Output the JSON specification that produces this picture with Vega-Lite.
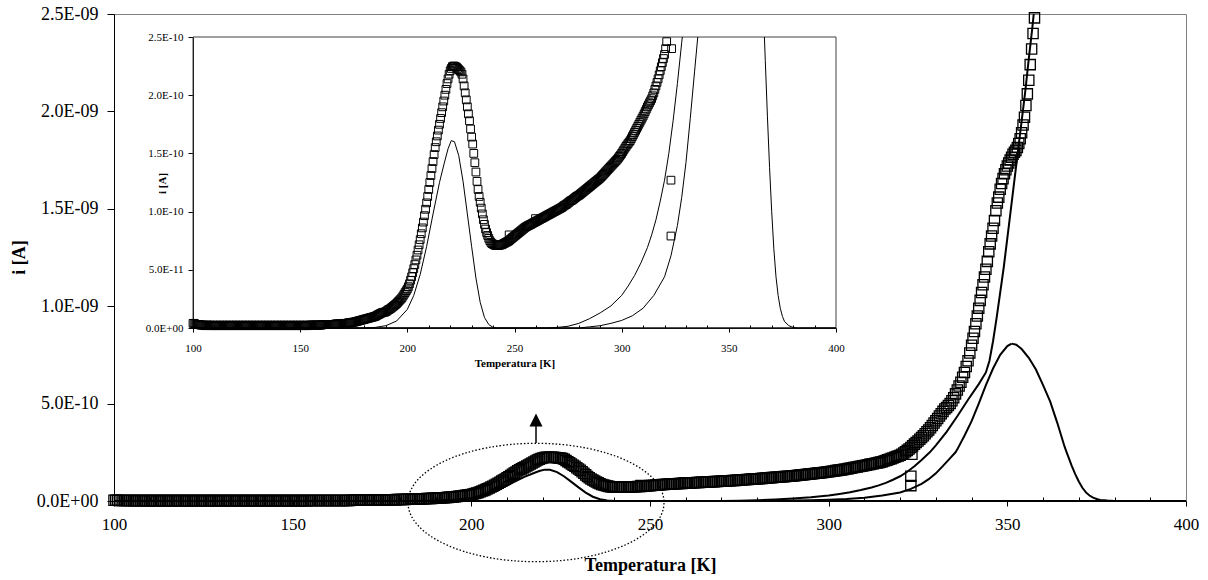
{
  "$schema": "https://vega.github.io/schema/vega-lite/v6.json",
  "width": 1072,
  "height": 487,
  "autosize": "none",
  "padding": {"left": 114, "top": 14, "right": 22, "bottom": 79},
  "background": "white",
  "config": {
    "view": {"stroke": "#7f7f7f", "strokeWidth": 1},
    "axis": {"labelFont": "Liberation Serif", "titleFont": "Liberation Serif", "labelColor": "black", "titleColor": "black", "domainColor": "black", "tickColor": "black", "grid": false, "labelFlush": false, "labelOverlap": false}
  },
  "datasets": {
    "sq": [
      {"T":100,"i":4e-12},{"T":100.5,"i":4e-12},{"T":101,"i":3.5e-12},{"T":101.5,"i":3e-12},{"T":102,"i":3e-12},{"T":102.5,"i":3e-12},{"T":103,"i":3e-12},{"T":103.5,"i":2.5e-12},{"T":104,"i":2.5e-12},{"T":104.5,"i":2.5e-12},{"T":105,"i":2.5e-12},{"T":105.5,"i":2e-12},{"T":106,"i":2e-12},{"T":106.5,"i":2.5e-12},{"T":107,"i":2.5e-12},{"T":107.5,"i":2e-12},{"T":108,"i":2.5e-12},{"T":108.5,"i":2e-12},{"T":109,"i":2e-12},{"T":109.5,"i":2.5e-12},{"T":110,"i":2e-12},{"T":110.5,"i":2e-12},{"T":111,"i":2.5e-12},{"T":111.5,"i":2e-12},{"T":112,"i":2e-12},{"T":112.5,"i":2.5e-12},{"T":113,"i":2e-12},{"T":113.5,"i":2e-12},{"T":114,"i":2.5e-12},{"T":114.5,"i":2e-12},{"T":115,"i":2e-12},{"T":115.5,"i":2.5e-12},{"T":116,"i":2e-12},{"T":116.5,"i":2e-12},{"T":117,"i":2.5e-12},{"T":117.5,"i":2e-12},{"T":118,"i":2e-12},{"T":118.5,"i":2.5e-12},{"T":119,"i":2e-12},{"T":119.5,"i":2e-12},{"T":120,"i":2.5e-12},{"T":120.5,"i":2e-12},{"T":121,"i":2e-12},{"T":121.5,"i":2.5e-12},{"T":122,"i":2e-12},{"T":122.5,"i":2e-12},{"T":123,"i":2.5e-12},{"T":123.5,"i":2e-12},{"T":124,"i":2e-12},{"T":124.5,"i":2.5e-12},{"T":125,"i":2e-12},{"T":125.5,"i":2e-12},{"T":126,"i":2.5e-12},{"T":126.5,"i":2e-12},{"T":127,"i":2e-12},{"T":127.5,"i":2.5e-12},{"T":128,"i":2e-12},{"T":128.5,"i":2e-12},{"T":129,"i":2.5e-12},{"T":129.5,"i":2e-12},{"T":130,"i":2e-12},{"T":130.5,"i":2.5e-12},{"T":131,"i":2e-12},{"T":131.5,"i":2e-12},{"T":132,"i":2.5e-12},{"T":132.5,"i":2e-12},{"T":133,"i":2e-12},{"T":133.5,"i":2.5e-12},{"T":134,"i":2e-12},{"T":134.5,"i":2e-12},{"T":135,"i":2.5e-12},{"T":135.5,"i":2e-12},{"T":136,"i":2e-12},{"T":136.5,"i":2.5e-12},{"T":137,"i":2e-12},{"T":137.5,"i":2e-12},{"T":138,"i":2.5e-12},{"T":138.5,"i":2e-12},{"T":139,"i":2e-12},{"T":139.5,"i":2.5e-12},{"T":140,"i":2e-12},{"T":140.5,"i":2e-12},{"T":141,"i":2.5e-12},{"T":141.5,"i":2e-12},{"T":142,"i":2e-12},{"T":142.5,"i":2.5e-12},{"T":143,"i":2e-12},{"T":143.5,"i":2e-12},{"T":144,"i":2.5e-12},{"T":144.5,"i":2e-12},{"T":145,"i":2e-12},{"T":145.5,"i":2.5e-12},{"T":146,"i":2e-12},{"T":146.5,"i":2e-12},{"T":147,"i":2.5e-12},{"T":147.5,"i":2e-12},{"T":148,"i":2e-12},{"T":148.5,"i":2.5e-12},{"T":149,"i":2e-12},{"T":149.5,"i":2e-12},{"T":150,"i":2.5e-12},{"T":150.5,"i":2e-12},{"T":151,"i":2e-12},{"T":151.5,"i":2.5e-12},{"T":152,"i":2e-12},{"T":152.5,"i":2e-12},{"T":153,"i":2.5e-12},{"T":153.5,"i":2e-12},{"T":154,"i":2e-12},{"T":154.5,"i":2.5e-12},{"T":155,"i":2.5e-12},{"T":155.5,"i":2.5e-12},{"T":156,"i":2.5e-12},{"T":156.5,"i":2.5e-12},{"T":157,"i":2.5e-12},{"T":157.5,"i":2.5e-12},{"T":158,"i":2.5e-12},{"T":158.5,"i":2.5e-12},{"T":159,"i":2.5e-12},{"T":159.5,"i":2.5e-12},{"T":160,"i":2.5e-12},{"T":160.5,"i":3e-12},{"T":161,"i":3e-12},{"T":161.5,"i":3e-12},{"T":162,"i":3e-12},{"T":162.5,"i":3e-12},{"T":163,"i":3e-12},{"T":163.5,"i":3e-12},{"T":164,"i":3e-12},{"T":164.5,"i":3e-12},{"T":165,"i":3e-12},{"T":165.5,"i":3e-12},{"T":166,"i":3e-12},{"T":166.5,"i":3.5e-12},{"T":167,"i":3.5e-12},{"T":167.5,"i":3.5e-12},{"T":168,"i":3.5e-12},{"T":168.5,"i":3.5e-12},{"T":169,"i":3.5e-12},{"T":169.5,"i":3.5e-12},{"T":170,"i":3.5e-12},
      {"T":170.5,"i":4e-12},{"T":171,"i":4e-12},{"T":171.5,"i":4e-12},{"T":172,"i":4e-12},{"T":172.5,"i":4.5e-12},{"T":173,"i":4.5e-12},{"T":173.5,"i":4.5e-12},{"T":174,"i":4.5e-12},{"T":174.5,"i":5e-12},{"T":175,"i":5e-12},{"T":175.5,"i":5.2e-12},{"T":176,"i":5.5e-12},{"T":176.5,"i":5.7e-12},{"T":177,"i":6e-12},{"T":177.5,"i":6.2e-12},{"T":178,"i":6.5e-12},{"T":178.5,"i":6.7e-12},{"T":179,"i":7e-12},{"T":179.5,"i":7.2e-12},{"T":180,"i":7.5e-12},{"T":180.5,"i":7.7e-12},{"T":181,"i":8e-12},{"T":181.5,"i":8.2e-12},{"T":182,"i":8.5e-12},{"T":182.5,"i":8.7e-12},{"T":183,"i":9e-12},{"T":183.5,"i":9.2e-12},{"T":184,"i":9.5e-12},{"T":184.5,"i":9.7e-12},{"T":185,"i":1e-11},{"T":185.5,"i":1.05e-11},{"T":186,"i":1.1e-11},{"T":186.5,"i":1.15e-11},{"T":187,"i":1.2e-11},{"T":187.5,"i":1.25e-11},{"T":188,"i":1.3e-11},{"T":188.5,"i":1.32e-11},{"T":189,"i":1.35e-11},{"T":189.5,"i":1.37e-11},{"T":190,"i":1.4e-11},{"T":190.5,"i":1.47e-11},{"T":191,"i":1.55e-11},{"T":191.5,"i":1.6e-11},{"T":192,"i":1.65e-11},{"T":192.5,"i":1.72e-11},{"T":193,"i":1.8e-11},{"T":193.5,"i":1.87e-11},{"T":194,"i":1.95e-11},{"T":194.5,"i":2.02e-11},
      {"T":195,"i":2.1e-11},{"T":195.5,"i":2.2e-11},{"T":196,"i":2.3e-11},{"T":196.5,"i":2.4e-11},{"T":197,"i":2.5e-11},{"T":197.5,"i":2.6e-11},{"T":198,"i":2.75e-11},{"T":198.5,"i":2.9e-11},{"T":199,"i":3.05e-11},{"T":199.5,"i":3.2e-11},{"T":200,"i":3.35e-11},{"T":200.5,"i":3.55e-11},{"T":201,"i":3.8e-11},{"T":201.5,"i":4.1e-11},{"T":202,"i":4.4e-11},{"T":202.5,"i":4.75e-11},{"T":203,"i":5.1e-11},{"T":203.5,"i":5.45e-11},{"T":204,"i":5.85e-11},{"T":204.5,"i":6.25e-11},{"T":205,"i":6.7e-11},{"T":205.5,"i":7.15e-11},{"T":206,"i":7.6e-11},{"T":206.5,"i":8.1e-11},{"T":207,"i":8.6e-11},{"T":207.5,"i":9.1e-11},{"T":208,"i":9.65e-11},{"T":208.5,"i":1.02e-10},{"T":209,"i":1.075e-10},{"T":209.5,"i":1.13e-10},{"T":210,"i":1.19e-10},{"T":210.5,"i":1.25e-10},{"T":211,"i":1.31e-10},{"T":211.5,"i":1.37e-10},{"T":212,"i":1.43e-10},{"T":212.5,"i":1.49e-10},{"T":213,"i":1.55e-10},{"T":213.5,"i":1.6e-10},{"T":214,"i":1.65e-10},{"T":214.5,"i":1.7e-10},{"T":215,"i":1.75e-10},{"T":215.5,"i":1.8e-10},{"T":216,"i":1.85e-10},{"T":216.5,"i":1.9e-10},{"T":217,"i":1.95e-10},{"T":217.5,"i":2e-10},{"T":218,"i":2.05e-10},{"T":218.5,"i":2.1e-10},{"T":219,"i":2.14e-10},{"T":219.5,"i":2.18e-10},{"T":220,"i":2.21e-10},{"T":220.5,"i":2.23e-10},{"T":221,"i":2.245e-10},{"T":221.5,"i":2.25e-10},{"T":222,"i":2.25e-10},{"T":222.5,"i":2.245e-10},{"T":223,"i":2.24e-10},{"T":223.5,"i":2.23e-10},{"T":224,"i":2.22e-10},{"T":224.5,"i":2.21e-10},{"T":225,"i":2.2e-10},{"T":225.5,"i":2.18e-10},{"T":226,"i":2.14e-10},{"T":226.5,"i":2.08e-10},{"T":227,"i":2.02e-10},{"T":227.5,"i":1.96e-10},{"T":228,"i":1.9e-10},{"T":228.5,"i":1.84e-10},{"T":229,"i":1.78e-10},{"T":229.5,"i":1.71e-10},{"T":230,"i":1.64e-10},{"T":230.5,"i":1.58e-10},{"T":231,"i":1.5e-10},{"T":231.5,"i":1.42e-10},{"T":232,"i":1.34e-10},{"T":232.5,"i":1.26e-10},{"T":233,"i":1.19e-10},{"T":233.5,"i":1.13e-10},{"T":234,"i":1.08e-10},{"T":234.5,"i":1.03e-10},{"T":235,"i":9.8e-11},{"T":235.5,"i":9.3e-11},{"T":236,"i":8.9e-11},{"T":236.5,"i":8.5e-11},{"T":237,"i":8.2e-11},{"T":237.5,"i":7.95e-11},{"T":238,"i":7.7e-11},{"T":238.5,"i":7.5e-11},{"T":239,"i":7.35e-11},{"T":239.5,"i":7.25e-11},{"T":240,"i":7.2e-11},{"T":240.5,"i":7.15e-11},{"T":241,"i":7.1e-11},{"T":241.5,"i":7.1e-11},{"T":242,"i":7.1e-11},{"T":242.5,"i":7.1e-11},{"T":243,"i":7.1e-11},{"T":243.5,"i":7.15e-11},{"T":244,"i":7.15e-11},{"T":244.5,"i":7.2e-11},
      {"T":245,"i":7.25e-11},{"T":245.5,"i":7.3e-11},{"T":246,"i":7.35e-11},{"T":246.5,"i":7.4e-11},{"T":247,"i":7.45e-11},{"T":247.5,"i":7.5e-11},{"T":247.5,"i":8e-11},{"T":248,"i":7.6e-11},{"T":248.5,"i":7.67e-11},{"T":249,"i":7.75e-11},{"T":249.5,"i":7.82e-11},{"T":250,"i":7.9e-11},{"T":250.5,"i":7.97e-11},{"T":251,"i":8.05e-11},{"T":251.5,"i":8.12e-11},{"T":252,"i":8.2e-11},{"T":252.5,"i":8.27e-11},{"T":253,"i":8.35e-11},{"T":253.5,"i":8.42e-11},{"T":254,"i":8.5e-11},{"T":254.5,"i":8.57e-11},{"T":255,"i":8.65e-11},{"T":255.5,"i":8.7e-11},{"T":256,"i":8.75e-11},{"T":256.5,"i":8.8e-11},{"T":257,"i":8.85e-11},{"T":257.5,"i":8.9e-11},{"T":258,"i":8.95e-11},{"T":258.5,"i":9e-11},{"T":259,"i":9.05e-11},{"T":259.5,"i":9.1e-11},{"T":259.8,"i":9.4e-11},{"T":260,"i":9.15e-11},{"T":260.5,"i":9.2e-11},{"T":261,"i":9.25e-11},{"T":261.5,"i":9.3e-11},{"T":262,"i":9.35e-11},{"T":262.5,"i":9.4e-11},{"T":263,"i":9.45e-11},{"T":263.5,"i":9.5e-11},{"T":264,"i":9.55e-11},{"T":264.5,"i":9.6e-11},{"T":265,"i":9.65e-11},{"T":265.5,"i":9.7e-11},{"T":266,"i":9.75e-11},{"T":266.5,"i":9.8e-11},{"T":267,"i":9.85e-11},{"T":267.5,"i":9.9e-11},{"T":268,"i":9.95e-11},{"T":268.5,"i":1e-10},{"T":269,"i":1.005e-10},{"T":269.5,"i":1.01e-10},{"T":270,"i":1.015e-10},{"T":270.5,"i":1.02e-10},{"T":271,"i":1.025e-10},{"T":271.5,"i":1.03e-10},{"T":272,"i":1.035e-10},{"T":272.5,"i":1.042e-10},{"T":273,"i":1.05e-10},{"T":273.5,"i":1.055e-10},{"T":274,"i":1.06e-10},{"T":274.5,"i":1.067e-10},{"T":275,"i":1.075e-10},{"T":275.5,"i":1.082e-10},{"T":276,"i":1.09e-10},{"T":276.5,"i":1.095e-10},{"T":277,"i":1.1e-10},{"T":277.5,"i":1.107e-10},{"T":278,"i":1.115e-10},{"T":278.5,"i":1.122e-10},{"T":279,"i":1.13e-10},{"T":279.5,"i":1.135e-10},{"T":280,"i":1.14e-10},{"T":280.5,"i":1.147e-10},{"T":281,"i":1.155e-10},{"T":281.5,"i":1.162e-10},{"T":282,"i":1.17e-10},{"T":282.5,"i":1.177e-10},{"T":283,"i":1.185e-10},{"T":283.5,"i":1.192e-10},{"T":284,"i":1.2e-10},{"T":284.5,"i":1.207e-10},{"T":285,"i":1.215e-10},{"T":285.5,"i":1.222e-10},{"T":286,"i":1.23e-10},{"T":286.5,"i":1.237e-10},{"T":287,"i":1.245e-10},{"T":287.5,"i":1.252e-10},{"T":288,"i":1.26e-10},{"T":288.5,"i":1.267e-10},{"T":289,"i":1.275e-10},{"T":289.5,"i":1.282e-10},{"T":290,"i":1.29e-10},{"T":290.5,"i":1.3e-10},{"T":291,"i":1.31e-10},{"T":291.5,"i":1.32e-10},{"T":292,"i":1.33e-10},{"T":292.5,"i":1.34e-10},{"T":293,"i":1.35e-10},{"T":293.5,"i":1.36e-10},{"T":294,"i":1.37e-10},{"T":294.5,"i":1.38e-10},{"T":295,"i":1.39e-10},{"T":295.5,"i":1.4e-10},{"T":296,"i":1.41e-10},{"T":296.5,"i":1.42e-10},{"T":297,"i":1.43e-10},{"T":297.5,"i":1.44e-10},{"T":298,"i":1.45e-10},{"T":298.5,"i":1.462e-10},{"T":299,"i":1.475e-10},{"T":299.5,"i":1.487e-10},{"T":300,"i":1.5e-10},
      {"T":300.5,"i":1.515e-10},{"T":301,"i":1.53e-10},{"T":301.5,"i":1.545e-10},{"T":302,"i":1.56e-10},{"T":302.5,"i":1.572e-10},{"T":303,"i":1.585e-10},{"T":303.5,"i":1.597e-10},{"T":304,"i":1.61e-10},{"T":304.5,"i":1.627e-10},{"T":305,"i":1.645e-10},{"T":305.5,"i":1.662e-10},{"T":306,"i":1.68e-10},{"T":306.5,"i":1.697e-10},{"T":307,"i":1.715e-10},{"T":307.5,"i":1.732e-10},{"T":308,"i":1.75e-10},{"T":308.5,"i":1.767e-10},{"T":309,"i":1.785e-10},{"T":309.5,"i":1.802e-10},{"T":310,"i":1.82e-10},{"T":310.5,"i":1.84e-10},{"T":311,"i":1.86e-10},{"T":311.5,"i":1.88e-10},{"T":312,"i":1.9e-10},{"T":312.5,"i":1.917e-10},{"T":313,"i":1.935e-10},{"T":313.5,"i":1.952e-10},{"T":314,"i":1.97e-10},{"T":314.5,"i":1.995e-10},{"T":315,"i":2.02e-10},{"T":315.5,"i":2.05e-10},{"T":316,"i":2.08e-10},{"T":316.5,"i":2.11e-10},{"T":317,"i":2.14e-10},{"T":317.5,"i":2.175e-10},{"T":318,"i":2.21e-10},{"T":318.5,"i":2.245e-10},{"T":319,"i":2.28e-10},{"T":319.5,"i":2.315e-10},{"T":320,"i":2.35e-10},{"T":320.5,"i":2.4e-10},{"T":321,"i":2.46e-10},{"T":321.5,"i":2.53e-10},{"T":322,"i":2.6e-10},{"T":322.5,"i":2.67e-10},{"T":323,"i":2.75e-10},{"T":323,"i":1.27e-10},{"T":323,"i":7.9e-11},{"T":323.3,"i":2.4e-10},
      {"T":323.5,"i":2.83e-10},{"T":324,"i":2.92e-10},{"T":324.5,"i":3e-10},{"T":325,"i":3.08e-10},{"T":325.5,"i":3.17e-10},{"T":326,"i":3.26e-10},{"T":326.5,"i":3.35e-10},{"T":327,"i":3.45e-10},{"T":327.5,"i":3.55e-10},{"T":328,"i":3.65e-10},{"T":328.5,"i":3.76e-10},{"T":329,"i":3.88e-10},{"T":329.5,"i":4e-10},{"T":330,"i":4.12e-10},{"T":330.5,"i":4.24e-10},{"T":331,"i":4.36e-10},{"T":331.5,"i":4.48e-10},{"T":332,"i":4.6e-10},{"T":332.5,"i":4.72e-10},{"T":333,"i":4.8e-10},{"T":333.5,"i":4.9e-10},{"T":334,"i":5e-10},{"T":334.5,"i":5.15e-10},{"T":335,"i":5.3e-10},{"T":335.5,"i":5.5e-10},{"T":336,"i":5.7e-10},{"T":336.5,"i":5.9e-10},{"T":337,"i":6.1e-10},{"T":337.5,"i":6.35e-10},{"T":338,"i":6.6e-10},{"T":338.5,"i":6.9e-10},{"T":339,"i":7.2e-10},{"T":339.5,"i":7.6e-10},{"T":340,"i":8e-10},
      {"T":340.4,"i":8.35e-10},{"T":340.8,"i":8.7e-10},{"T":341.2,"i":9.1e-10},{"T":341.6,"i":9.5e-10},{"T":342,"i":9.9e-10},{"T":342.4,"i":1.03e-9},{"T":342.8,"i":1.07e-9},{"T":343.2,"i":1.11e-9},{"T":343.6,"i":1.15e-9},{"T":344,"i":1.19e-9},{"T":344.4,"i":1.23e-9},{"T":344.8,"i":1.28e-9},{"T":345.2,"i":1.32e-9},{"T":345.6,"i":1.36e-9},{"T":346,"i":1.4e-9},{"T":346.4,"i":1.44e-9},{"T":346.8,"i":1.49e-9},{"T":347.2,"i":1.53e-9},{"T":347.6,"i":1.56e-9},{"T":348,"i":1.6e-9},{"T":348.4,"i":1.63e-9},{"T":348.8,"i":1.655e-9},{"T":349.2,"i":1.68e-9},{"T":349.6,"i":1.7e-9},{"T":350,"i":1.72e-9},{"T":350.4,"i":1.735e-9},{"T":350.8,"i":1.75e-9},{"T":351.2,"i":1.765e-9},{"T":351.6,"i":1.78e-9},{"T":352,"i":1.79e-9},{"T":352.4,"i":1.8e-9},{"T":352.8,"i":1.815e-9},{"T":353.2,"i":1.835e-9},{"T":353.6,"i":1.86e-9},{"T":354,"i":1.89e-9},{"T":354.4,"i":1.93e-9},{"T":354.8,"i":1.97e-9},{"T":355.2,"i":2.03e-9},{"T":355.6,"i":2.09e-9},{"T":356,"i":2.16e-9},{"T":356.4,"i":2.24e-9},{"T":356.8,"i":2.32e-9},{"T":357.2,"i":2.4e-9},{"T":357.6,"i":2.48e-9}
    ],
    "ln": [
      {"s":"P1","T":100,"i":0},{"s":"P1","T":180,"i":0},{"s":"P1","T":185,"i":5e-13},{"s":"P1","T":190,"i":2e-12},{"s":"P1","T":195,"i":6e-12},{"s":"P1","T":200,"i":1.6e-11},{"s":"P1","T":203,"i":2.8e-11},{"s":"P1","T":206,"i":4.6e-11},{"s":"P1","T":209,"i":7e-11},{"s":"P1","T":212,"i":9.8e-11},{"s":"P1","T":215,"i":1.25e-10},{"s":"P1","T":217,"i":1.4e-10},{"s":"P1","T":219,"i":1.54e-10},{"s":"P1","T":220.5,"i":1.61e-10},{"s":"P1","T":222,"i":1.6e-10},{"s":"P1","T":224,"i":1.48e-10},{"s":"P1","T":226,"i":1.26e-10},{"s":"P1","T":228,"i":9.8e-11},{"s":"P1","T":230,"i":7e-11},{"s":"P1","T":232,"i":4.3e-11},{"s":"P1","T":234,"i":2.2e-11},{"s":"P1","T":236,"i":9e-12},{"s":"P1","T":238,"i":3e-12},{"s":"P1","T":240,"i":5e-13},{"s":"P1","T":242,"i":0},{"s":"P1","T":400,"i":0},
      {"s":"A","T":100,"i":0},{"s":"A","T":265,"i":0},{"s":"A","T":270,"i":5e-13},{"s":"A","T":275,"i":1.5e-12},{"s":"A","T":280,"i":4e-12},{"s":"A","T":285,"i":8e-12},{"s":"A","T":290,"i":1.3e-11},{"s":"A","T":295,"i":1.9e-11},{"s":"A","T":300,"i":2.8e-11},{"s":"A","T":303,"i":3.6e-11},{"s":"A","T":306,"i":4.5e-11},{"s":"A","T":309,"i":5.6e-11},{"s":"A","T":312,"i":6.9e-11},{"s":"A","T":314,"i":8e-11},{"s":"A","T":316,"i":9.3e-11},{"s":"A","T":318,"i":1.09e-10},{"s":"A","T":320,"i":1.27e-10},{"s":"A","T":322,"i":1.5e-10},{"s":"A","T":324,"i":1.78e-10},{"s":"A","T":326,"i":2.1e-10},{"s":"A","T":328,"i":2.45e-10},{"s":"A","T":328.3,"i":2.5e-10},{"s":"A","T":330,"i":2.85e-10},{"s":"A","T":333,"i":3.55e-10},{"s":"A","T":336,"i":4.35e-10},{"s":"A","T":339,"i":5.2e-10},{"s":"A","T":342,"i":6e-10},{"s":"A","T":344,"i":6.6e-10},{"s":"A","T":345,"i":7.2e-10},{"s":"A","T":346,"i":8.2e-10},{"s":"A","T":347,"i":9.4e-10},{"s":"A","T":348,"i":1.07e-9},{"s":"A","T":349,"i":1.2e-9},{"s":"A","T":350,"i":1.35e-9},{"s":"A","T":351,"i":1.5e-9},{"s":"A","T":352,"i":1.65e-9},{"s":"A","T":353,"i":1.8e-9},{"s":"A","T":354,"i":1.95e-9},{"s":"A","T":355,"i":2.1e-9},{"s":"A","T":356,"i":2.27e-9},{"s":"A","T":357,"i":2.43e-9},{"s":"A","T":357.5,"i":2.52e-9},
      {"s":"P2a","T":100,"i":0},{"s":"P2a","T":280,"i":0},{"s":"P2a","T":285,"i":1e-12},{"s":"P2a","T":290,"i":2e-12},{"s":"P2a","T":295,"i":4e-12},{"s":"P2a","T":300,"i":6.5e-12},{"s":"P2a","T":305,"i":1.05e-11},{"s":"P2a","T":310,"i":1.7e-11},{"s":"P2a","T":315,"i":2.8e-11},{"s":"P2a","T":320,"i":4.4e-11},{"s":"P2a","T":323,"i":6.2e-11},{"s":"P2a","T":326,"i":8.8e-11},{"s":"P2a","T":328,"i":1.12e-10},{"s":"P2a","T":330,"i":1.42e-10},{"s":"P2a","T":332,"i":1.8e-10},{"s":"P2a","T":334,"i":2.2e-10},{"s":"P2a","T":335.5,"i":2.5e-10},{"s":"P2a","T":336,"i":2.65e-10},{"s":"P2a","T":338,"i":3.35e-10},{"s":"P2a","T":340,"i":4.1e-10},{"s":"P2a","T":342,"i":5e-10},{"s":"P2a","T":344,"i":5.95e-10},{"s":"P2a","T":346,"i":6.8e-10},{"s":"P2a","T":348,"i":7.5e-10},{"s":"P2a","T":350,"i":7.95e-10},{"s":"P2a","T":351.2,"i":8.08e-10},
      {"s":"P2b","T":351.2,"i":8.08e-10},{"s":"P2b","T":352.5,"i":8.02e-10},{"s":"P2b","T":354,"i":7.8e-10},{"s":"P2b","T":356,"i":7.35e-10},{"s":"P2b","T":358,"i":6.75e-10},{"s":"P2b","T":360,"i":5.95e-10},{"s":"P2b","T":362,"i":5.1e-10},{"s":"P2b","T":364,"i":4e-10},{"s":"P2b","T":366,"i":2.8e-10},{"s":"P2b","T":366.6,"i":2.5e-10},{"s":"P2b","T":367,"i":2.3e-10},{"s":"P2b","T":368,"i":1.82e-10},{"s":"P2b","T":369,"i":1.38e-10},{"s":"P2b","T":370,"i":1e-10},{"s":"P2b","T":371,"i":6.8e-11},{"s":"P2b","T":372,"i":4.4e-11},{"s":"P2b","T":373,"i":2.8e-11},{"s":"P2b","T":374,"i":1.7e-11},{"s":"P2b","T":375,"i":1e-11},{"s":"P2b","T":376,"i":5.5e-12},{"s":"P2b","T":378,"i":2e-12},{"s":"P2b","T":380,"i":5e-13},{"s":"P2b","T":382,"i":0},{"s":"P2b","T":400,"i":0}
    ],
    "fr": [{"x1": 100, "x2": 400, "y1": 0, "y2": 2.5e-10}],
    "ell": [{"T": 218.1, "i": -7.7e-12}],
    "arr": [{"T": 218.1, "i": 2.98e-10, "i2": 3.85e-10, "ih": 4.16e-10}]
  },
  "resolve": {"scale": {"x": "independent", "y": "independent"}},
  "layer": [
    {
      "data": {"name": "sq"},
      "mark": {"type": "point", "shape": "square", "filled": false, "color": "black", "strokeWidth": 1.3, "size": 105, "opacity": 1},
      "encoding": {
        "x": {"field": "T", "type": "quantitative", "scale": {"domain": [100, 400], "nice": false, "zero": false},
          "axis": {"orient": "bottom", "values": [100, 150, 200, 250, 300, 350, 400], "tickSize": 5, "labelFontSize": 17, "labelPadding": 10, "title": "Temperatura [K]", "titleFontSize": 18, "titleFontWeight": "bold", "titleX": 536, "titleY": 64, "titleAlign": "center", "titleBaseline": "middle"}},
        "y": {"field": "i", "type": "quantitative", "scale": {"domain": [0, 2.5e-9], "nice": false, "zero": false},
          "axis": {"orient": "left", "values": [0, 5e-10, 1e-9, 1.5e-9, 2e-9, 2.5e-9], "tickSize": 7, "labelFontSize": 18, "labelPadding": 9, "labelExpr": "datum.value == 0 ? '0.0E+00' : replace(replace(format(datum.value, '.1e'), regexp('e-([0-9])$'), 'E-0$1'), 'e-', 'E-')", "title": "i [A]", "titleFontSize": 18, "titleFontWeight": "bold", "titleX": -95, "titleY": 243, "titleAlign": "center", "titleBaseline": "middle", "titleAngle": 270}}
      }
    },
    {
      "data": {"name": "ln"},
      "mark": {"type": "line", "color": "black", "strokeWidth": 2, "clip": true},
      "encoding": {
        "x": {"field": "T", "type": "quantitative", "scale": {"domain": [100, 400], "nice": false, "zero": false},
          "axis": {"orient": "bottom", "values": [110, 120, 130, 140, 160, 170, 180, 190, 210, 220, 230, 240, 260, 270, 280, 290, 310, 320, 330, 340, 360, 370, 380, 390], "tickSize": -4, "labels": false, "domain": false, "title": null}},
        "y": {"field": "i", "type": "quantitative", "scale": {"domain": [0, 2.5e-9], "nice": false, "zero": false}, "axis": null},
        "detail": {"field": "s", "type": "nominal"}
      }
    },
    {
      "data": {"name": "fr"},
      "mark": {"type": "rect", "fill": "transparent", "stroke": "#404040", "strokeWidth": 1},
      "encoding": {
        "x": {"field": "x1", "type": "quantitative", "scale": {"domain": [100, 400], "range": [79, 722], "nice": false, "zero": false}, "axis": null},
        "x2": {"field": "x2"},
        "y": {"field": "y1", "type": "quantitative", "scale": {"domain": [0, 2.5e-10], "range": [314, 23], "nice": false, "zero": false}, "axis": null},
        "y2": {"field": "y2"}
      }
    },
    {
      "data": {"name": "sq"},
      "transform": [{"filter": "datum.i <= 2.5e-10"}],
      "mark": {"type": "point", "shape": "square", "filled": false, "color": "black", "strokeWidth": 1, "size": 60, "opacity": 1},
      "encoding": {
        "x": {"field": "T", "type": "quantitative", "scale": {"domain": [100, 400], "range": [79, 722], "nice": false, "zero": false},
          "axis": {"orient": "bottom", "offset": -173, "values": [100, 150, 200, 250, 300, 350, 400], "tickSize": 4, "labelFontSize": 11, "labelPadding": 10, "title": "Temperatura [K]", "titleFontSize": 11, "titleFontWeight": "bold", "titleX": 400.5, "titleY": 35, "titleAlign": "center", "titleBaseline": "middle"}},
        "y": {"field": "i", "type": "quantitative", "scale": {"domain": [0, 2.5e-10], "range": [314, 23], "nice": false, "zero": false},
          "axis": {"orient": "left", "offset": -79, "values": [0, 5e-11, 1e-10, 1.5e-10, 2e-10, 2.5e-10], "tickSize": 5, "labelFontSize": 11, "labelPadding": 5, "labelExpr": "datum.value == 0 ? '0.0E+00' : replace(replace(format(datum.value, '.1e'), regexp('e-([0-9])$'), 'E-0$1'), 'e-', 'E-')", "title": "i [A]", "titleFontSize": 11, "titleFontWeight": "bold", "titleX": -31, "titleY": 169, "titleAlign": "center", "titleBaseline": "middle", "titleAngle": 270}}
      }
    },
    {
      "data": {"name": "ln"},
      "transform": [{"filter": "datum.i <= 2.5e-10"}],
      "mark": {"type": "line", "color": "black", "strokeWidth": 1},
      "encoding": {
        "x": {"field": "T", "type": "quantitative", "scale": {"domain": [100, 400], "range": [79, 722], "nice": false, "zero": false},
          "axis": {"orient": "bottom", "offset": -173, "values": [110, 120, 130, 140, 160, 170, 180, 190, 210, 220, 230, 240, 260, 270, 280, 290, 310, 320, 330, 340, 360, 370, 380, 390], "tickSize": -3, "labels": false, "domain": false, "title": null}},
        "y": {"field": "i", "type": "quantitative", "scale": {"domain": [0, 2.5e-10], "range": [314, 23], "nice": false, "zero": false}, "axis": null},
        "detail": {"field": "s", "type": "nominal"}
      }
    },
    {
      "data": {"name": "ell"},
      "mark": {"type": "point", "shape": "M-1,0C-1,-0.2554,-0.5523,-0.4625,0,-0.4625C0.5523,-0.4625,1,-0.2554,1,0C1,0.2554,0.5523,0.4625,0,0.4625C-0.5523,0.4625,-1,0.2554,-1,0Z", "filled": false, "color": "black", "strokeWidth": 1.3, "strokeDash": [1.5, 2], "size": 65536, "opacity": 1},
      "encoding": {
        "x": {"field": "T", "type": "quantitative", "scale": {"domain": [100, 400], "nice": false, "zero": false}, "axis": null},
        "y": {"field": "i", "type": "quantitative", "scale": {"domain": [0, 2.5e-9], "nice": false, "zero": false}, "axis": null}
      }
    },
    {
      "data": {"name": "arr"},
      "mark": {"type": "rule", "color": "black", "strokeWidth": 1.5},
      "encoding": {
        "x": {"field": "T", "type": "quantitative", "scale": {"domain": [100, 400], "nice": false, "zero": false}, "axis": null},
        "y": {"field": "i", "type": "quantitative", "scale": {"domain": [0, 2.5e-9], "nice": false, "zero": false}, "axis": null},
        "y2": {"field": "i2"}
      }
    },
    {
      "data": {"name": "arr"},
      "mark": {"type": "point", "shape": "M0,-1L1,1L-1,1Z", "filled": true, "color": "black", "size": 169, "opacity": 1},
      "encoding": {
        "x": {"field": "T", "type": "quantitative", "scale": {"domain": [100, 400], "nice": false, "zero": false}, "axis": null},
        "y": {"field": "ih", "type": "quantitative", "scale": {"domain": [0, 2.5e-9], "nice": false, "zero": false}, "axis": null}
      }
    }
  ]
}
